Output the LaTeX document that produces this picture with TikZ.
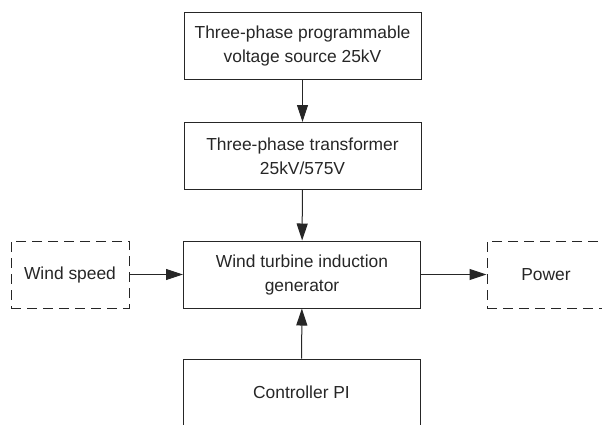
\documentclass[tikz,border=0pt]{standalone}
\usepackage{fontspec}
\setmainfont{Liberation Sans}
\usetikzlibrary{arrows.meta}
\begin{document}
\begin{tikzpicture}[x=1pt,y=-1pt,
  blk/.style={draw=black!85, line width=1pt, align=center, inner sep=0pt,
    font=\fontsize{17.4}{24}\selectfont, text=black!85},
  solidbox/.style={blk, minimum width=237pt, minimum height=67pt},
  dashbox/.style={blk, dash pattern=on 10pt off 6pt, minimum width=118pt, minimum height=67pt},
  arr/.style={draw=black!85, line width=1pt, -{Triangle[length=17pt,width=11pt]}}]
\useasboundingbox (0,0) rectangle (602,424);
\clip (0,0) rectangle (602,424);
\node[solidbox] (src) at (302.5,45.5) {Three-phase programmable\\voltage source 25kV};
\node[solidbox] (tr) at (302.5,156) {Three-phase transformer\\25kV/575V};
\node[solidbox] (gen) at (302,274.5) {Wind turbine induction\\generator};
\node[dashbox] (wind) at (70,274.5) {Wind speed};
\node[dashbox] (pow) at (546,274.5) {Power};
\node[solidbox] (pi) at (301.5,392.5) {Controller PI};
\draw[arr] (src) -- (tr);
\draw[arr] (tr) -- (gen);
\draw[arr] (wind) -- (gen);
\draw[arr] (gen) -- (pow);
\draw[arr] (pi) -- (gen);
\end{tikzpicture}
\end{document}
